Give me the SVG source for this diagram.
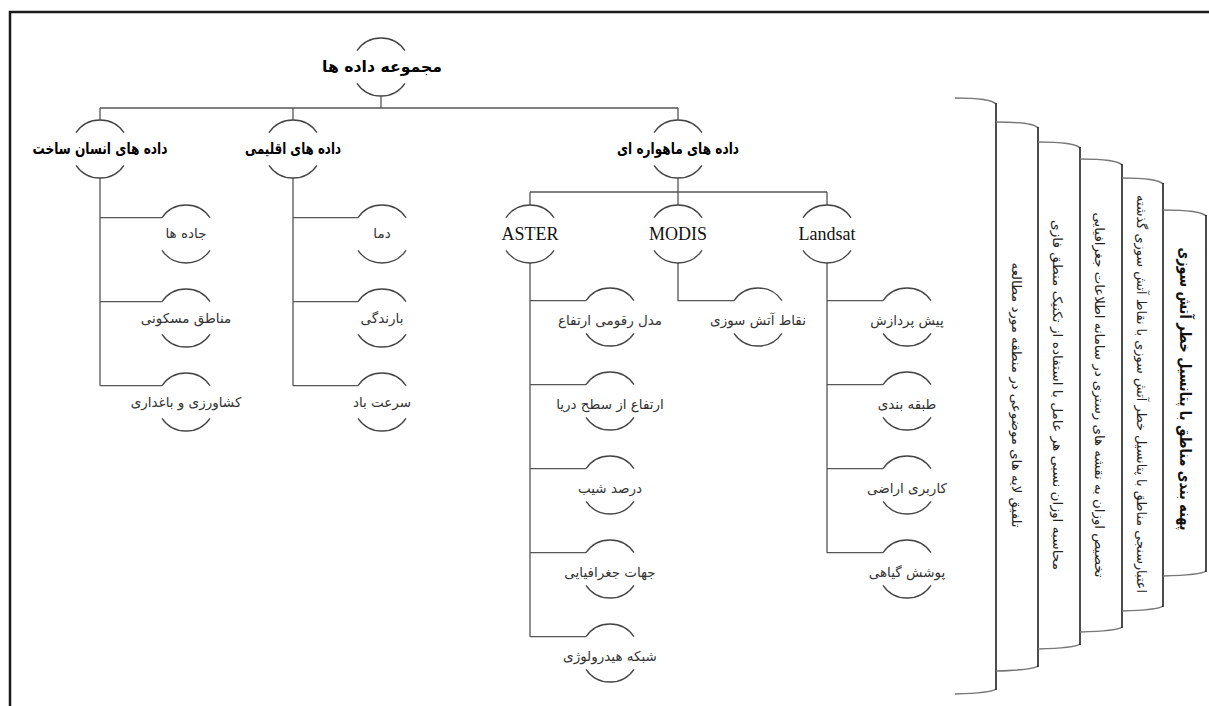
<svg xmlns="http://www.w3.org/2000/svg" width="1209" height="706" viewBox="0 0 1209 706">
<style>
.frame{stroke:#1a1a1a;stroke-width:2.5;fill:none}
.con{stroke:#555;stroke-width:1.3;fill:none}
.arc{stroke:#444;stroke-width:1.3;fill:none}
.cap{stroke:#777;stroke-width:1.6;fill:none}
.vl{stroke:#111;stroke-width:1.5;fill:none}
.b{font-family:"DejaVu Sans",sans-serif;font-weight:bold;font-size:16px;fill:#000;text-anchor:middle}
.c{font-family:"DejaVu Sans",sans-serif;font-size:13.5px;fill:#333;text-anchor:middle}
.e{font-family:"Liberation Serif",serif;font-size:18px;fill:#111;text-anchor:middle}
.v{font-family:"DejaVu Sans",sans-serif;font-size:13px;fill:#222;text-anchor:middle}
.vb{font-family:"DejaVu Sans",sans-serif;font-size:16px;font-weight:bold;fill:#111;text-anchor:middle}
</style>
<rect width="1209" height="706" fill="#fff"/>
<path class="frame" d="M10,706 V12 H1209"/>

<g id="connectors">
<path class="con" d="M381,96 V108 M100,108 H678 M100,108 V120 M293,108 V120 M678,108 V120"/>
<path class="con" d="M100,178 V385.7 M100,217.7 H162 M100,301.7 H162 M100,385.7 H162"/>
<path class="con" d="M293,178 V385.7 M293,217.7 H358 M293,301.7 H358 M293,385.7 H358"/>
<path class="con" d="M678,178 V192 M530,192 H827 M530,192 V205 M678,192 V205 M827,192 V205"/>
<path class="con" d="M530,263 V636.7 M530,300.7 H586 M530,384.7 H586 M530,468.7 H586 M530,552.7 H586 M530,636.7 H586"/>
<path class="con" d="M678,263 V300.7 H734"/>
<path class="con" d="M827,263 V552.7 M827,300.7 H883 M827,384.7 H883 M827,468.7 H883 M827,552.7 H883"/>
</g>

<g id="n-root"><path class="arc" d="M357,50.7 A29,29 0 0 1 405,50.7 M357,83.3 A29,29 0 0 0 405,83.3"/><text class="b" x="382" y="72" textLength="120" lengthAdjust="spacingAndGlyphs">مجموعه داده ها</text></g>
<g id="n-human"><path class="arc" d="M76,132.7 A29,29 0 0 1 124,132.7 M76,165.3 A29,29 0 0 0 124,165.3"/><text class="b" x="100" y="154" textLength="135" lengthAdjust="spacingAndGlyphs">داده های انسان ساخت</text></g>
<g id="n-climate"><path class="arc" d="M269,132.7 A29,29 0 0 1 317,132.7 M269,165.3 A29,29 0 0 0 317,165.3"/><text class="b" x="293" y="154" textLength="96" lengthAdjust="spacingAndGlyphs">داده های اقلیمی</text></g>
<g id="n-sat"><path class="arc" d="M654,132.7 A29,29 0 0 1 702,132.7 M654,165.3 A29,29 0 0 0 702,165.3"/><text class="b" x="678" y="154" textLength="122" lengthAdjust="spacingAndGlyphs">داده های ماهواره ای</text></g>

<g id="n-aster"><path class="arc" d="M506,217.7 A29,29 0 0 1 554,217.7 M506,250.3 A29,29 0 0 0 554,250.3"/><text class="e" x="530" y="240">ASTER</text></g>
<g id="n-modis"><path class="arc" d="M654,217.7 A29,29 0 0 1 702,217.7 M654,250.3 A29,29 0 0 0 702,250.3"/><text class="e" x="678" y="240">MODIS</text></g>
<g id="n-landsat"><path class="arc" d="M803,217.7 A29,29 0 0 1 851,217.7 M803,250.3 A29,29 0 0 0 851,250.3"/><text class="e" x="827" y="240">Landsat</text></g>

<g id="n-roads"><path class="arc" d="M162,217.7 A29,29 0 0 1 210,217.7 M162,250.3 A29,29 0 0 0 210,250.3"/><text class="c" x="186" y="238">جاده ها</text></g>
<g id="n-resid"><path class="arc" d="M162,301.7 A29,29 0 0 1 210,301.7 M162,334.3 A29,29 0 0 0 210,334.3"/><text class="c" x="186" y="323">مناطق مسکونی</text></g>
<g id="n-agri"><path class="arc" d="M162,385.7 A29,29 0 0 1 210,385.7 M162,418.3 A29,29 0 0 0 210,418.3"/><text class="c" x="186" y="407">کشاورزی و باغداری</text></g>

<g id="n-temp"><path class="arc" d="M358,217.7 A29,29 0 0 1 406,217.7 M358,250.3 A29,29 0 0 0 406,250.3"/><text class="c" x="382" y="238">دما</text></g>
<g id="n-rain"><path class="arc" d="M358,301.7 A29,29 0 0 1 406,301.7 M358,334.3 A29,29 0 0 0 406,334.3"/><text class="c" x="382" y="323">بارندگی</text></g>
<g id="n-wind"><path class="arc" d="M358,385.7 A29,29 0 0 1 406,385.7 M358,418.3 A29,29 0 0 0 406,418.3"/><text class="c" x="382" y="407">سرعت باد</text></g>

<g id="n-dem"><path class="arc" d="M586,300.7 A29,29 0 0 1 634,300.7 M586,333.3 A29,29 0 0 0 634,333.3"/><text class="c" x="610" y="325">مدل رقومی ارتفاع</text></g>
<g id="n-elev"><path class="arc" d="M586,384.7 A29,29 0 0 1 634,384.7 M586,417.3 A29,29 0 0 0 634,417.3"/><text class="c" x="610" y="409">ارتفاع از سطح دریا</text></g>
<g id="n-slope"><path class="arc" d="M586,468.7 A29,29 0 0 1 634,468.7 M586,501.3 A29,29 0 0 0 634,501.3"/><text class="c" x="610" y="493">درصد شیب</text></g>
<g id="n-aspect"><path class="arc" d="M586,552.7 A29,29 0 0 1 634,552.7 M586,585.3 A29,29 0 0 0 634,585.3"/><text class="c" x="610" y="577">جهات جغرافیایی</text></g>
<g id="n-hydro"><path class="arc" d="M586,636.7 A29,29 0 0 1 634,636.7 M586,669.3 A29,29 0 0 0 634,669.3"/><text class="c" x="610" y="661">شبکه هیدرولوژی</text></g>

<g id="n-fire"><path class="arc" d="M734,300.7 A29,29 0 0 1 782,300.7 M734,333.3 A29,29 0 0 0 782,333.3"/><text class="c" x="758" y="325">نقاط آتش سوزی</text></g>

<g id="n-pre"><path class="arc" d="M883,300.7 A29,29 0 0 1 931,300.7 M883,333.3 A29,29 0 0 0 931,333.3"/><text class="c" x="907" y="325">پیش پردازش</text></g>
<g id="n-class"><path class="arc" d="M883,384.7 A29,29 0 0 1 931,384.7 M883,417.3 A29,29 0 0 0 931,417.3"/><text class="c" x="907" y="409">طبقه بندی</text></g>
<g id="n-landuse"><path class="arc" d="M883,468.7 A29,29 0 0 1 931,468.7 M883,501.3 A29,29 0 0 0 931,501.3"/><text class="c" x="907" y="493">کاربری اراضی</text></g>
<g id="n-veg"><path class="arc" d="M883,552.7 A29,29 0 0 1 931,552.7 M883,585.3 A29,29 0 0 0 931,585.3"/><text class="c" x="907" y="577">پوشش گیاهی</text></g>

<g id="steps">
<g id="p1"><path class="cap" d="M955,98 Q991,98 996,104 M996,689 Q991,693 955,694"/><path class="vl" d="M996,103 V690"/></g>
<g id="p2"><path class="cap" d="M996,122 Q1033,122 1038,128 M1038,666 Q1033,670 996,671"/><path class="vl" d="M1038,127 V667"/><text class="v" transform="translate(1016,395) rotate(90)" y="4.5" textLength="265" lengthAdjust="spacingAndGlyphs">تلفیق لایه های موضوعی در منطقه مورد مطالعه</text></g>
<g id="p3"><path class="cap" d="M1038,142 Q1075,142 1080,148 M1080,644 Q1075,648 1038,649"/><path class="vl" d="M1080,147 V645"/><text class="v" transform="translate(1057,395) rotate(90)" y="4.5" textLength="350" lengthAdjust="spacingAndGlyphs">محاسبه اوزان نسبی هر عامل با استفاده از تکنیک منطق فازی</text></g>
<g id="p4"><path class="cap" d="M1080,159 Q1117,159 1122,165 M1122,627 Q1117,631 1080,632"/><path class="vl" d="M1122,164 V628"/><text class="v" transform="translate(1099,395) rotate(90)" y="4.5" textLength="365" lengthAdjust="spacingAndGlyphs">تخصیص اوزان به نقشه های رستری در سامانه اطلاعات جغرافیایی</text></g>
<g id="p5"><path class="cap" d="M1122,178 Q1158,178 1163,184 M1163,606 Q1158,610 1122,611"/><path class="vl" d="M1163,183 V607"/><text class="v" transform="translate(1141,394) rotate(90)" y="4.5" textLength="398" lengthAdjust="spacingAndGlyphs">اعتبارسنجی مناطق با پتانسیل خطر آتش سوزی با نقاط آتش سوزی گذشته</text></g>
<g id="p6"><path class="cap" d="M1163,210 Q1201,210 1206,216 M1206,571 Q1201,575 1163,576"/><path class="vl" d="M1206,215 V572"/><text class="vb" transform="translate(1185,389) rotate(90)" y="5.5" textLength="283" lengthAdjust="spacingAndGlyphs">پهنه بندی مناطق با پتانسیل خطر آتش سوزی</text></g>
</g>
</svg>
